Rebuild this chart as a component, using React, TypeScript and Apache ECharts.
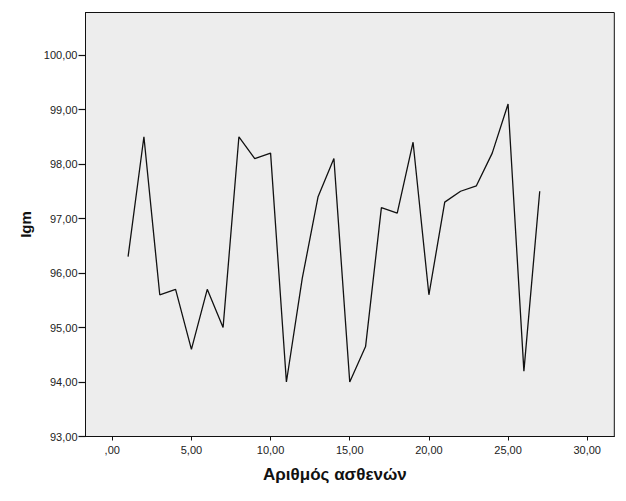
import React, { useEffect, useRef } from "react";
import * as echarts from "echarts";

const patients = [1,2,3,4,5,6,7,8,9,10,11,12,13,14,15,16,17,18,19,20,21,22,23,24,25,26,27];
const igm = [96.3,98.5,95.6,95.7,94.6,95.7,95.0,98.5,98.1,98.2,94.0,95.9,97.4,98.1,94.0,94.65,97.2,97.1,98.4,95.6,97.3,97.5,97.6,98.2,99.1,94.2,97.5];
const xTicks = [0,5,10,15,20,25,30];
const yTicks = [93,94,95,96,97,98,99,100];

const fmt = (v: number) => (v === 0 ? ",00" : v.toFixed(2).replace(".", ","));

export default function App() {
  const ref = useRef<HTMLDivElement>(null);
  useEffect(() => {
    if (!ref.current) return;
    const chart = echarts.init(ref.current, null, { renderer: "svg" });
    chart.setOption({
      animation: false,
      backgroundColor: "#fff",
      grid: {
        left: 85.5,
        top: 12.5,
        right: 11.7,
        bottom: 64.5,
        show: true,
        backgroundColor: "#ededed",
        borderColor: "#111",
        borderWidth: 1,
      },
      xAxis: {
        type: "value",
        min: -1.69,
        max: 31.71,
        name: "Αριθμός ασθενών",
        nameLocation: "middle",
        nameGap: 29,
        nameTextStyle: { fontFamily: "Liberation Sans", fontSize: 17, fontWeight: "bold", color: "#111", padding: [0, 30, 0, 0] },
        axisLine: { show: true, onZero: false, lineStyle: { color: "#111", width: 1 } },
        axisTick: { show: true, customValues: xTicks, length: 4, lineStyle: { color: "#111", width: 1 } },
        splitLine: { show: false },
        axisLabel: {
          customValues: xTicks,
          formatter: (v: number) => fmt(v),
          fontFamily: "Liberation Sans",
          fontSize: 11,
          color: "#222",
          margin: 8,
        },
      },
      yAxis: {
        type: "value",
        min: 93,
        max: 100.78,
        name: "Igm",
        nameLocation: "middle",
        nameGap: 38,
        nameRotate: 90,
        nameTextStyle: { fontFamily: "Liberation Sans", fontSize: 15, fontWeight: "bold", color: "#111" },
        axisLine: { show: true, onZero: false, lineStyle: { color: "#111", width: 1 } },
        axisTick: { show: true, customValues: yTicks, length: 7, lineStyle: { color: "#111", width: 1.2 } },
        splitLine: { show: false },
        axisLabel: {
          customValues: yTicks,
          formatter: (v: number) => fmt(v),
          fontFamily: "Liberation Sans",
          fontSize: 11,
          color: "#222",
          margin: 8,
        },
      },
      series: [
        {
          type: "line",
          data: patients.map((p, i) => [p, igm[i]]),
          showSymbol: false,
          symbol: "none",
          lineStyle: { color: "#111", width: 1.3 },
        },
      ],
    });
    return () => chart.dispose();
  }, []);
  return <div ref={ref} style={{ position: "absolute", left: 0, top: 0, width: 626, height: 501 }} />;
}
